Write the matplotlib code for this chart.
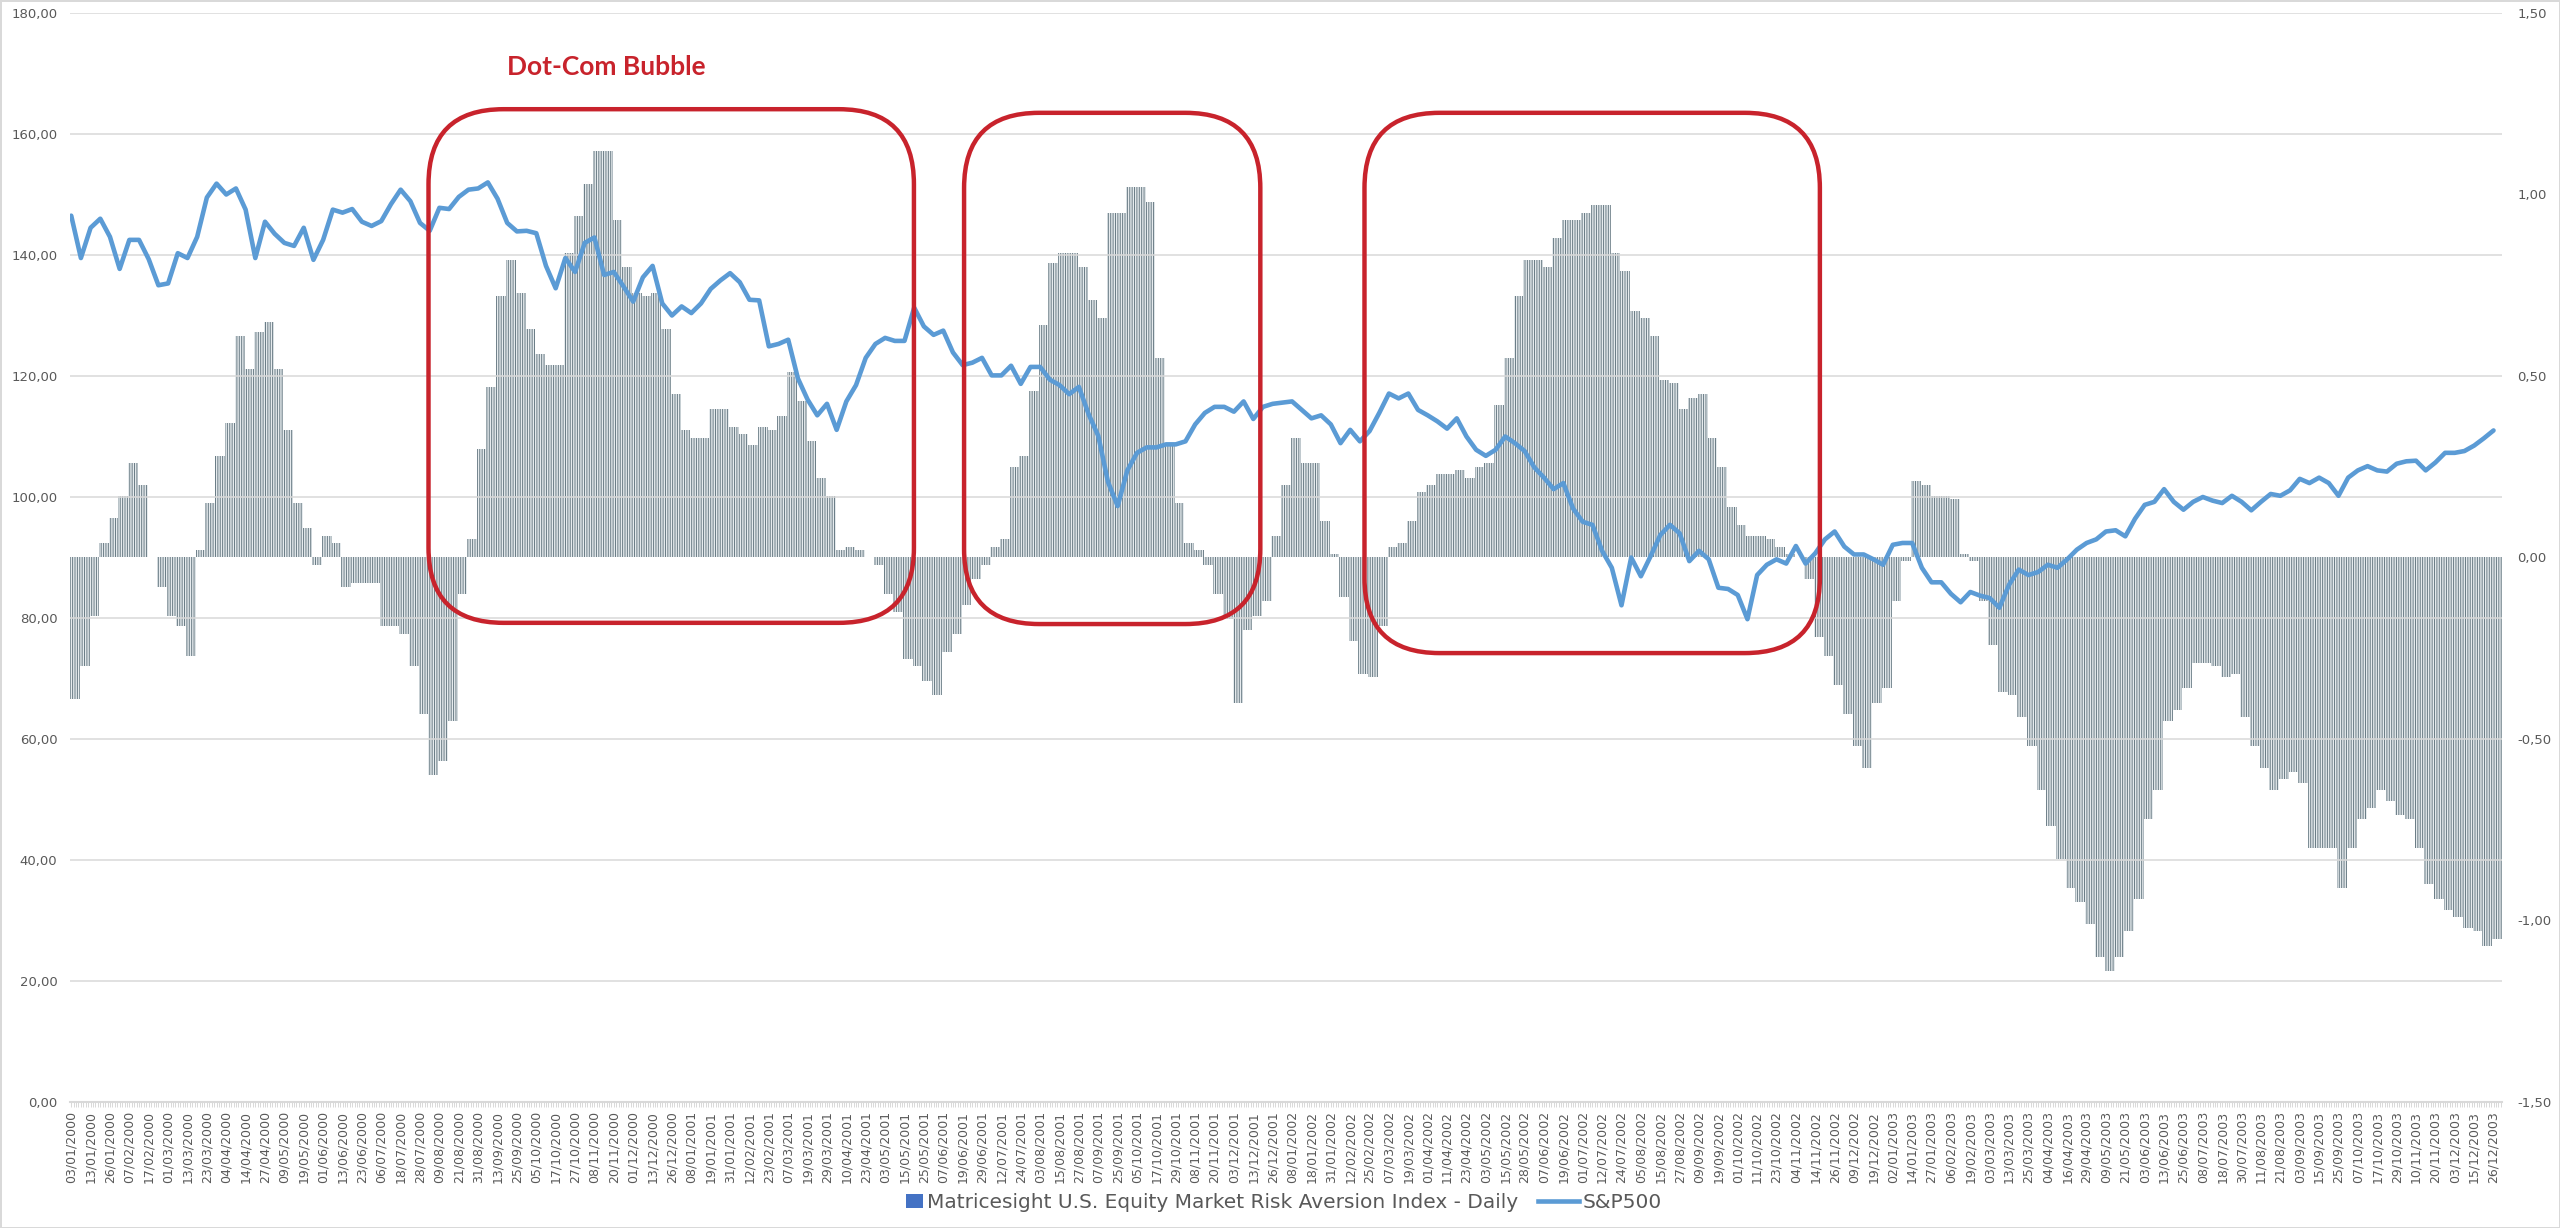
import numpy as np
import matplotlib
matplotlib.use("Agg")
import matplotlib.pyplot as plt
from matplotlib.patches import FancyBboxPatch, Patch, Rectangle
from matplotlib.lines import Line2D
from matplotlib.legend_handler import HandlerPatch
from matplotlib.ticker import FuncFormatter

# x-axis labels, one every 8 trading days (03/01/2000 .. 26/12/2003)
tick_labels = [
    "03/01/2000", "13/01/2000", "26/01/2000", "07/02/2000", "17/02/2000", "01/03/2000", "13/03/2000", "23/03/2000",
    "04/04/2000", "14/04/2000", "27/04/2000", "09/05/2000", "19/05/2000", "01/06/2000", "13/06/2000", "23/06/2000",
    "06/07/2000", "18/07/2000", "28/07/2000", "09/08/2000", "21/08/2000", "31/08/2000", "13/09/2000", "25/09/2000",
    "05/10/2000", "17/10/2000", "27/10/2000", "08/11/2000", "20/11/2000", "01/12/2000", "13/12/2000", "26/12/2000",
    "08/01/2001", "19/01/2001", "31/01/2001", "12/02/2001", "23/02/2001", "07/03/2001", "19/03/2001", "29/03/2001",
    "10/04/2001", "23/04/2001", "03/05/2001", "15/05/2001", "25/05/2001", "07/06/2001", "19/06/2001", "29/06/2001",
    "12/07/2001", "24/07/2001", "03/08/2001", "15/08/2001", "27/08/2001", "07/09/2001", "25/09/2001", "05/10/2001",
    "17/10/2001", "29/10/2001", "08/11/2001", "20/11/2001", "03/12/2001", "13/12/2001", "26/12/2001",
    "08/01/2002", "18/01/2002", "31/01/2002", "12/02/2002", "25/02/2002", "07/03/2002", "19/03/2002", "01/04/2002",
    "11/04/2002", "23/04/2002", "03/05/2002", "15/05/2002", "28/05/2002", "07/06/2002", "19/06/2002", "01/07/2002",
    "12/07/2002", "24/07/2002", "05/08/2002", "15/08/2002", "27/08/2002", "09/09/2002", "19/09/2002", "01/10/2002",
    "11/10/2002", "23/10/2002", "04/11/2002", "14/11/2002", "26/11/2002", "09/12/2002", "19/12/2002",
    "02/01/2003", "14/01/2003", "27/01/2003", "06/02/2003", "19/02/2003", "03/03/2003", "13/03/2003", "25/03/2003",
    "04/04/2003", "16/04/2003", "29/04/2003", "09/05/2003", "21/05/2003", "03/06/2003", "13/06/2003", "25/06/2003",
    "08/07/2003", "18/07/2003", "30/07/2003", "11/08/2003", "21/08/2003", "03/09/2003", "15/09/2003", "25/09/2003",
    "07/10/2003", "17/10/2003", "29/10/2003", "10/11/2003", "20/11/2003", "03/12/2003", "15/12/2003", "26/12/2003",
]

# S&P500 (scaled, left axis), sampled every 4 trading days
sp500 = [
    146.5, 139.5, 144.5, 146.0, 143.0, 137.7, 142.5, 142.5, 139.3, 135.0,
    135.3, 140.3, 139.5, 143.0, 149.5, 151.8, 150.0, 151.0, 147.5, 139.5,
    145.5, 143.5, 142.0, 141.5, 144.5, 139.2, 142.5, 147.5, 147.0, 147.6,
    145.5, 144.8, 145.6, 148.4, 150.8, 148.9, 145.3, 144.0, 147.8, 147.6,
    149.6, 150.8, 151.0, 152.0, 149.3, 145.3, 143.9, 144.0, 143.6, 138.2,
    134.5, 139.5, 137.2, 142.0, 142.9, 136.7, 137.2, 134.8, 132.3, 136.3,
    138.2, 132.0, 130.0, 131.5, 130.4, 132.0, 134.4, 135.8, 137.0, 135.5,
    132.6, 132.5, 124.9, 125.3, 126.0, 119.6, 116.1, 113.5, 115.4, 111.1,
    115.8, 118.5, 123.0, 125.3, 126.3, 125.8, 125.8, 131.3, 128.2, 126.8,
    127.5, 123.9, 121.8, 122.2, 123.0, 120.1, 120.1, 121.7, 118.7, 121.5,
    121.5, 119.4, 118.5, 117.0, 118.2, 113.7, 110.1, 102.5, 98.5, 104.4,
    107.3, 108.2, 108.2, 108.7, 108.7, 109.2, 112.0, 113.9, 114.9, 114.9,
    114.1, 115.8, 112.9, 114.9, 115.4, 115.6, 115.8, 114.4, 113.0, 113.5,
    112.0, 108.9, 111.1, 109.2, 110.9, 113.9, 117.1, 116.3, 117.1, 114.4,
    113.5, 112.5, 111.3, 113.0, 110.0, 107.8, 106.8, 107.8, 110.0, 108.9,
    107.6, 104.9, 103.2, 101.3, 102.3, 98.1, 95.9, 95.4, 91.1, 88.3,
    82.1, 90.0, 86.9, 90.2, 93.7, 95.4, 94.0, 89.4, 91.1, 89.7,
    85.0, 84.8, 83.8, 79.8, 87.1, 88.8, 89.7, 89.0, 91.9, 89.0,
    90.7, 93.0, 94.3, 91.8, 90.5, 90.5, 89.7, 88.8, 92.1, 92.4,
    92.4, 88.3, 85.9, 85.9, 84.0, 82.6, 84.3, 83.7, 83.3, 81.7,
    85.5, 88.0, 87.1, 87.6, 88.8, 88.3, 89.7, 91.3, 92.4, 93.0,
    94.3, 94.5, 93.5, 96.4, 98.7, 99.2, 101.3, 99.2, 97.9, 99.2,
    100.0, 99.4, 99.0, 100.2, 99.2, 97.8, 99.2, 100.5, 100.2, 101.1,
    103.0, 102.3, 103.2, 102.3, 100.2, 103.2, 104.4, 105.1, 104.4, 104.2,
    105.5, 105.9, 106.0, 104.4, 105.7, 107.3, 107.3, 107.6, 108.5, 109.7,
    111.0,
]

# Risk aversion index (right axis), same 4-day sampling
risk_aversion = [
    -0.39, -0.30, -0.16, 0.04, 0.11, 0.17, 0.26, 0.20, 0.00, -0.08,
    -0.16, -0.19, -0.27, 0.02, 0.15, 0.28, 0.37, 0.61, 0.52, 0.62,
    0.65, 0.52, 0.35, 0.15, 0.08, -0.02, 0.06, 0.04, -0.08, -0.07,
    -0.07, -0.07, -0.19, -0.19, -0.21, -0.30, -0.43, -0.60, -0.56, -0.45,
    -0.10, 0.05, 0.30, 0.47, 0.72, 0.82, 0.73, 0.63, 0.56, 0.53,
    0.53, 0.84, 0.94, 1.03, 1.12, 1.12, 0.93, 0.80, 0.73, 0.72,
    0.73, 0.63, 0.45, 0.35, 0.33, 0.33, 0.41, 0.41, 0.36, 0.34,
    0.31, 0.36, 0.35, 0.39, 0.51, 0.43, 0.32, 0.22, 0.17, 0.02,
    0.03, 0.02, 0.00, -0.02, -0.10, -0.15, -0.28, -0.30, -0.34, -0.38,
    -0.26, -0.21, -0.13, -0.06, -0.02, 0.03, 0.05, 0.25, 0.28, 0.46,
    0.64, 0.81, 0.84, 0.84, 0.80, 0.71, 0.66, 0.95, 0.95, 1.02,
    1.02, 0.98, 0.55, 0.31, 0.15, 0.04, 0.02, -0.02, -0.10, -0.17,
    -0.40, -0.20, -0.16, -0.12, 0.06, 0.20, 0.33, 0.26, 0.26, 0.10,
    0.01, -0.11, -0.23, -0.32, -0.33, -0.19, 0.03, 0.04, 0.10, 0.18,
    0.20, 0.23, 0.23, 0.24, 0.22, 0.25, 0.26, 0.42, 0.55, 0.72,
    0.82, 0.82, 0.80, 0.88, 0.93, 0.93, 0.95, 0.97, 0.97, 0.84,
    0.79, 0.68, 0.66, 0.61, 0.49, 0.48, 0.41, 0.44, 0.45, 0.33,
    0.25, 0.14, 0.09, 0.06, 0.06, 0.05, 0.03, 0.01, 0.00, -0.06,
    -0.22, -0.27, -0.35, -0.43, -0.52, -0.58, -0.40, -0.36, -0.12, -0.01,
    0.21, 0.20, 0.17, 0.17, 0.16, 0.01, -0.01, -0.12, -0.24, -0.37,
    -0.38, -0.44, -0.52, -0.64, -0.74, -0.83, -0.91, -0.95, -1.01, -1.10,
    -1.14, -1.10, -1.03, -0.94, -0.72, -0.64, -0.45, -0.42, -0.36, -0.29,
    -0.29, -0.30, -0.33, -0.32, -0.44, -0.52, -0.58, -0.64, -0.61, -0.59,
    -0.62, -0.80, -0.80, -0.80, -0.91, -0.80, -0.72, -0.69, -0.64, -0.67,
    -0.71, -0.72, -0.80, -0.90, -0.94, -0.97, -0.99, -1.02, -1.03, -1.07,
    -1.05,
]

# highlighted periods: (first day, last day) on the trading-day axis
highlight_days = [(147.5, 347.9), (368.6, 490.9), (533.9, 721.9)]
highlight_levels = [(79.2, 164.1), (79.0, 163.5), (74.2, 163.5)]

N_DAYS = 1004
STEP = 4
LABEL_EVERY = 8
RED = "#c8232c"
GREY_TXT = "#595959"
GRID = "#d9d9d9"

plt.rcParams["hatch.linewidth"] = 0.7


def comma_fmt(v, _):
    return f"{v:.2f}".replace(".", ",")


fig = plt.figure(figsize=(25.6, 12.28), dpi=100)
fig.patch.set_edgecolor(GRID)
fig.patch.set_linewidth(2)
ax = fig.add_axes([70 / 2560, 126 / 1228, 2432 / 2560, 1089 / 1228])
ax2 = ax.twinx()
ax.set_zorder(ax2.get_zorder() + 1)
ax.patch.set_visible(False)

days = np.arange(len(sp500)) * STEP

# bars, one per sample, striped to look like daily columns
ax2.bar(days + 1.5, risk_aversion, width=STEP + 0.15, color="#e6ebee",
        edgecolor="#687a83", linewidth=0, hatch="|" * 7)
ax.plot(days, sp500, color="#5b9bd5", lw=3.3, solid_joinstyle="round",
        solid_capstyle="round")

ax.set_xlim(-0.5, N_DAYS - 0.5)
ax.set_ylim(0, 180)
ax2.set_ylim(-1.5, 1.5)

ax.set_yticks(np.arange(0, 181, 20))
ax2.set_yticks(np.arange(-1.5, 1.51, 0.5))
ax.yaxis.set_major_formatter(FuncFormatter(comma_fmt))
ax2.yaxis.set_major_formatter(FuncFormatter(comma_fmt))
ax.tick_params(axis="y", length=0, pad=9, labelsize=9.5, labelcolor=GREY_TXT)
ax2.tick_params(axis="y", length=0, pad=11, labelsize=9.5, labelcolor=GREY_TXT)

ax.set_xticks(np.arange(len(tick_labels)) * LABEL_EVERY)
ax.set_xticklabels(tick_labels, rotation=90, fontsize=9, color=GREY_TXT)
ax.set_xticks(np.arange(N_DAYS), minor=True)
ax.tick_params(axis="x", which="both", length=3.6, width=0.7, color=GRID,
               direction="out", pad=3)

ax.yaxis.grid(True, color=GRID, lw=1.1)
ax.set_axisbelow(True)
for a in (ax, ax2):
    for s in ("top", "left", "right", "bottom"):
        a.spines[s].set_visible(False)
ax.spines["bottom"].set_visible(True)
ax.spines["bottom"].set_color(GRID)
ax.spines["bottom"].set_linewidth(1.5)

# rounded red boxes around the three stress episodes
bbox = ax.get_position()
px_x = bbox.width * fig.get_figwidth() * fig.dpi / N_DAYS
px_y = bbox.height * fig.get_figheight() * fig.dpi / 180.0
radius = 75 / px_x
for (d0, d1), (v0, v1) in zip(highlight_days, highlight_levels):
    box = FancyBboxPatch((d0, v0), d1 - d0, v1 - v0,
                         boxstyle=f"round,pad=0,rounding_size={radius}",
                         mutation_aspect=px_x / px_y, fill=False,
                         ec=RED, lw=3.2, zorder=6, clip_on=False)
    ax.add_patch(box)

ax.text(180, 171, "Dot-Com Bubble", color=RED, fontsize=19,
        fontweight="bold", family="Lato", ha="left", va="center")


def square_patch(legend, orig_handle, xdescent, ydescent, width, height, fontsize):
    return Rectangle((-xdescent + width - 1.2 * height, -ydescent),
                     1.2 * height, height)


handles = [Patch(facecolor="#4472c4"),
           Line2D([], [], color="#5b9bd5", lw=3.3)]
labels = ["Matricesight U.S. Equity Market Risk Aversion Index - Daily", "S&P500"]
fig.legend(handles, labels, loc="center", bbox_to_anchor=(0.497, 0.021),
           ncol=2, frameon=False, fontsize=14.5, labelcolor=GREY_TXT,
           handlelength=2.0, handletextpad=0.2, columnspacing=1.0,
           handler_map={Patch: HandlerPatch(patch_func=square_patch)})

fig.savefig("out.png", dpi=100)
